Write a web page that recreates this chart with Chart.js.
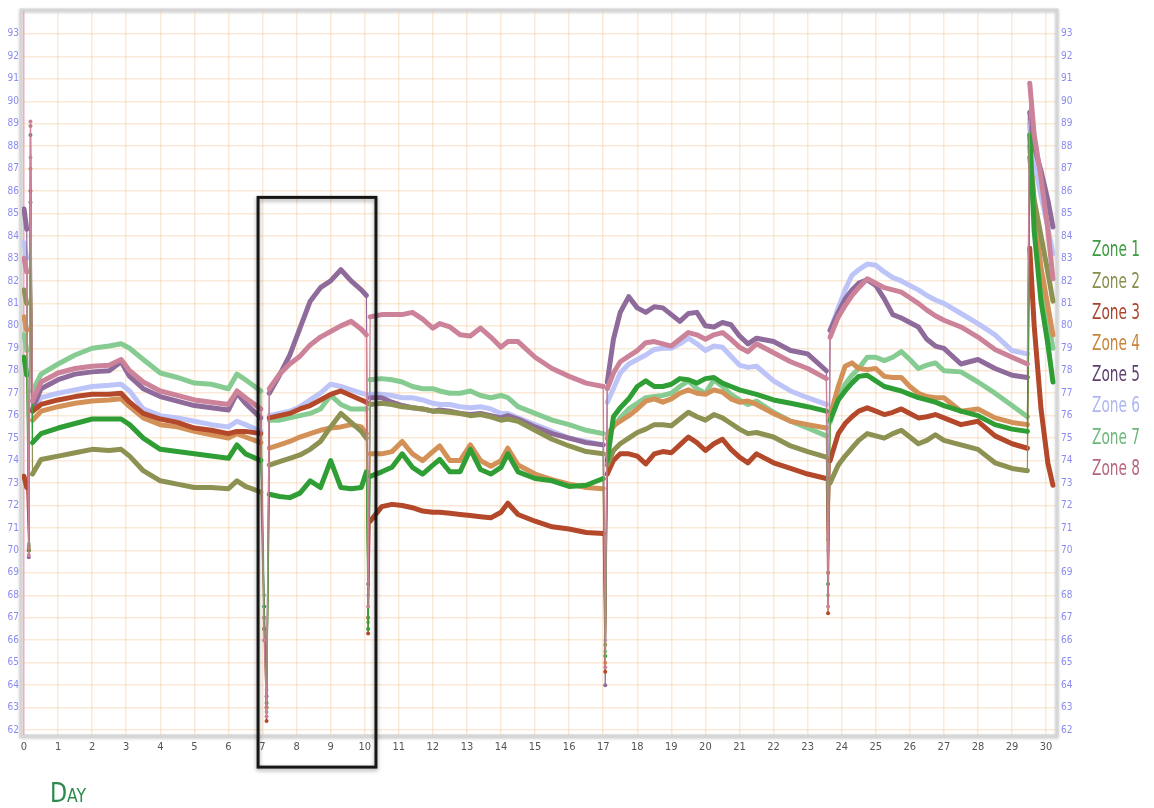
<!DOCTYPE html>
<html>
<head>
<meta charset="utf-8">
<title>Zone temperatures by day</title>
<script src="https://cdn.jsdelivr.net/npm/chart.js@4.4.1/dist/chart.umd.min.js"></script>
<style>
  html, body { margin: 0; padding: 0; background: #ffffff; }
  #wrap { position: relative; width: 1154px; height: 808px; }
</style>
</head>
<body>
<div id="wrap"><canvas id="chart" width="1154" height="808"></canvas></div>
<script>
// Sample times (days since start), shared by every zone.
const days = [
  0, 0.08, 0.14, 0.19, 0.25,
  0.5, 1, 1.5, 2, 2.5, 2.85, 3.1, 3.5, 4, 4.5, 5, 5.5, 6, 6.25, 6.5, 6.95,
  7.05, 7.12, 7.2,
  7.5, 7.8, 8.1, 8.4, 8.7, 9.0, 9.3, 9.6, 9.9, 10.05,
  10.1, 10.16,
  10.5, 10.8, 11.1, 11.4, 11.7, 12.0, 12.2, 12.5, 12.8, 13.1, 13.4, 13.7, 14.0, 14.2, 14.5, 15, 15.5, 16, 16.5, 17.0,
  17.06, 17.12,
  17.3, 17.5, 17.75, 18, 18.25, 18.5, 18.75, 19, 19.25, 19.5, 19.75, 20, 20.25, 20.5, 20.75, 21, 21.25, 21.5, 22, 22.5, 23, 23.55,
  23.6, 23.66,
  23.9, 24.1, 24.3, 24.5, 24.75, 25, 25.25, 25.5, 25.75, 26, 26.25, 26.5, 26.75, 27, 27.5, 28, 28.5, 29, 29.45,
  29.52, 29.65, 29.85, 30.05, 30.2
];

const zone1 = [
  78.6, 77.8, 70.0, 88.5, 74.8,
  75.2, 75.45, 75.65, 75.85, 75.85, 75.85, 75.6, 75.0, 74.5, 74.4, 74.3, 74.2, 74.1, 74.7, 74.3, 74.0,
  67.5, 63.2, 72.5,
  72.4, 72.35, 72.55, 73.1, 72.8, 74.0, 72.8, 72.75, 72.8, 73.5,
  66.5, 73.3,
  73.5, 73.7, 74.3, 73.7, 73.4, 73.8, 74.05, 73.5, 73.5, 74.5, 73.6, 73.4, 73.7, 74.3, 73.5, 73.2, 73.1, 72.85, 72.9, 73.2,
  65.3, 74.0,
  75.95, 76.35, 76.75, 77.3, 77.55, 77.3, 77.3, 77.4, 77.65, 77.6, 77.45, 77.65, 77.7, 77.45, 77.3, 77.15, 77.05, 76.95, 76.7, 76.55, 76.4, 76.2,
  68.5, 75.8,
  76.7, 77.1, 77.45, 77.75, 77.8, 77.55, 77.3, 77.2, 77.1, 76.95, 76.8, 76.7, 76.6, 76.45, 76.2, 76.0, 75.6, 75.4, 75.3,
  88.5, 84.2, 81.1, 79.2, 77.5
];
const zone2 = [
  81.6, 81.0, 70.2, 88.9, 73.4,
  74.05, 74.2, 74.35, 74.5, 74.45, 74.5, 74.2, 73.55, 73.1, 72.95, 72.8, 72.8, 72.75, 73.1, 72.85, 72.6,
  66.5, 63.0, 73.8,
  73.95, 74.1, 74.25, 74.5, 74.85, 75.5, 76.1, 75.7, 75.3, 75.0,
  67.0, 76.5,
  76.55, 76.5, 76.4, 76.35, 76.3, 76.2, 76.2, 76.15, 76.1, 76.0, 76.05, 75.95, 75.8, 75.85, 75.75, 75.35, 74.95, 74.65, 74.4, 74.3,
  65.8, 73.8,
  74.45, 74.75, 75.0, 75.25, 75.4, 75.6, 75.6, 75.55, 75.85, 76.15, 75.95, 75.8, 76.05, 75.9, 75.65, 75.4, 75.2, 75.25, 75.05, 74.65, 74.4, 74.15,
  70.5, 73.0,
  73.8, 74.2, 74.55, 74.9, 75.2, 75.1, 75.0, 75.2, 75.35, 75.05, 74.75, 74.9, 75.15, 74.9, 74.7, 74.5, 73.9, 73.65, 73.55,
  87.5, 85.6, 84.0, 82.4, 81.1
];
const zone3 = [
  73.3, 72.8, 70.0, 86.0, 76.2,
  76.5, 76.7, 76.85, 76.95, 76.95, 77.0, 76.6, 76.1, 75.85, 75.7, 75.45, 75.35, 75.2, 75.3, 75.3, 75.2,
  66.5, 62.4, 75.9,
  76.0, 76.1, 76.3, 76.45, 76.7, 76.95, 77.1, 76.9, 76.7, 76.6,
  66.3, 71.3,
  71.95, 72.05, 72.0, 71.9, 71.75, 71.7, 71.7, 71.65, 71.6, 71.55, 71.5, 71.45, 71.7, 72.1, 71.6, 71.3, 71.05, 70.95, 70.8, 70.75,
  64.6, 73.4,
  74.0, 74.3, 74.3, 74.2, 73.85, 74.3, 74.4, 74.35, 74.7, 75.05, 74.8, 74.45, 74.75, 74.95, 74.5, 74.15, 73.9, 74.3, 73.9, 73.65, 73.4, 73.2,
  67.2, 74.0,
  75.2, 75.65, 75.95, 76.2, 76.35, 76.2, 76.05, 76.15, 76.3, 76.1, 75.9, 75.95, 76.05, 75.9, 75.6, 75.75, 75.1, 74.75, 74.55,
  83.45, 80.0, 76.3, 73.9, 72.9
];
const zone4 = [
  80.4, 79.8, 70.1, 87.0, 75.8,
  76.2, 76.4, 76.55, 76.65, 76.7, 76.75, 76.4, 75.9, 75.6, 75.5, 75.3, 75.15, 75.0, 75.2, 75.05, 74.8,
  67.0, 63.0, 74.55,
  74.7, 74.85, 75.05, 75.2, 75.35, 75.45, 75.5, 75.6, 75.5, 75.2,
  67.0, 74.3,
  74.3, 74.4, 74.85, 74.3, 74.0, 74.4, 74.65, 74.0, 74.0, 74.7, 74.0, 73.75, 74.0, 74.55, 73.8, 73.4, 73.15, 72.95, 72.8, 72.75,
  65.0, 75.0,
  75.55, 75.75, 76.0, 76.3, 76.65, 76.75, 76.6, 76.75, 77.0, 77.15, 77.0, 76.95, 77.15, 77.05, 76.75, 76.6, 76.65, 76.5, 76.1, 75.75, 75.6, 75.45,
  69.0, 76.0,
  77.3, 78.2, 78.35, 78.1, 78.05, 78.1, 77.75, 77.7, 77.7, 77.3, 77.0, 76.85, 76.8, 76.8, 76.2, 76.3, 75.9, 75.7, 75.6,
  88.0, 85.0, 82.6, 80.9, 79.6
];
const zone5 = [
  85.2, 84.3, 69.7, 85.5, 76.3,
  77.2, 77.6, 77.85, 77.95, 78.0, 78.4, 77.75, 77.2, 76.85, 76.65, 76.45, 76.35, 76.25, 77.0, 76.55, 75.9,
  67.0, 63.5, 77.0,
  77.8, 78.7, 79.9, 81.1, 81.7, 82.0, 82.5, 82.0, 81.6, 81.35,
  68.5, 76.8,
  76.8, 76.6, 76.45, 76.35, 76.3, 76.2, 76.25, 76.2, 76.1, 76.05, 76.1, 76.0, 75.9, 76.0, 75.85, 75.5, 75.2, 75.0, 74.8, 74.7,
  64.0, 77.5,
  79.4, 80.6, 81.3, 80.8, 80.6, 80.85, 80.8, 80.5, 80.2, 80.55, 80.6, 80.0, 79.95, 80.15, 80.05, 79.55, 79.2, 79.45, 79.3, 78.9, 78.75, 78.0,
  69.0, 79.8,
  80.6, 81.2, 81.6, 81.9, 82.05, 81.8, 81.2, 80.5, 80.35, 80.15, 79.95, 79.4, 79.1, 79.0, 78.3, 78.5, 78.1, 77.8, 77.7,
  89.5, 88.0, 86.9, 85.6, 84.4
];
const zone6 = [
  83.7, 83.0, 70.2, 84.0, 76.2,
  76.8, 77.0, 77.15, 77.3, 77.35, 77.4, 77.1, 76.3, 76.0, 75.9, 75.75, 75.6, 75.5, 75.75, 75.6, 75.3,
  67.5, 63.8, 76.0,
  76.1, 76.2, 76.4, 76.7, 77.0, 77.4, 77.3, 77.15, 77.0, 76.95,
  68.0, 76.95,
  76.95, 76.9, 76.8, 76.8, 76.7, 76.55, 76.5, 76.5, 76.4, 76.35, 76.4, 76.3, 76.1, 76.1, 75.9, 75.6, 75.3, 75.0, 74.85, 74.7,
  66.0, 76.6,
  77.2, 77.9, 78.3, 78.5, 78.7, 78.95, 79.0, 79.0, 79.2, 79.45, 79.2, 78.9, 79.1, 79.05, 78.65, 78.25, 78.15, 78.2, 77.55, 77.1, 76.8, 76.5,
  70.0, 79.8,
  80.8, 81.6, 82.25, 82.5, 82.75, 82.7, 82.4, 82.15, 82.0, 81.8, 81.6, 81.35, 81.15, 81.0, 80.55, 80.1, 79.6, 78.9, 78.75,
  89.2, 87.3, 85.8, 84.4, 83.2
];
const zone7 = [
  79.6, 78.9, 70.3, 87.5, 77.1,
  77.85, 78.3, 78.7, 79.0, 79.1, 79.2, 79.0, 78.5, 77.9, 77.7, 77.45, 77.4, 77.2, 77.85, 77.6, 77.1,
  68.0, 62.8, 75.8,
  75.8, 75.9, 76.0, 76.1, 76.3, 76.9, 76.5, 76.3, 76.3, 76.3,
  66.8, 77.6,
  77.65, 77.6, 77.5, 77.3, 77.2, 77.2, 77.1, 77.0, 77.0, 77.1, 76.9, 76.8, 76.9, 76.8, 76.4, 76.1, 75.8, 75.6, 75.35, 75.2,
  65.5, 75.2,
  75.5, 75.9, 76.3, 76.55, 76.8, 76.85, 76.9, 77.0, 77.3, 77.55, 77.2, 77.0, 77.6, 77.3, 76.95, 76.7, 76.5, 76.65, 76.15, 75.75, 75.45, 75.1,
  68.0, 75.7,
  76.8, 77.4, 77.8, 78.1, 78.6, 78.6, 78.45, 78.6, 78.85, 78.5, 78.1, 78.25, 78.35, 78.0, 77.95, 77.5, 77.0, 76.45, 75.95,
  89.0, 85.2, 82.0, 80.3, 79.0
];
const zone8 = [
  83.0, 82.4, 69.8, 89.1, 76.65,
  77.5, 77.9, 78.1, 78.2, 78.25, 78.5, 78.0, 77.5, 77.1, 76.9, 76.7, 76.6, 76.5, 77.1, 76.8, 76.3,
  66.0, 62.6, 77.2,
  77.85, 78.3, 78.65, 79.15, 79.5, 79.75, 80.0, 80.2, 79.85, 79.6,
  67.5, 80.4,
  80.5, 80.5, 80.5, 80.6, 80.3, 79.9, 80.1, 79.95, 79.6, 79.55, 79.9, 79.5, 79.05, 79.3, 79.3, 78.6, 78.1, 77.75, 77.45, 77.3,
  64.8, 77.2,
  77.9, 78.4, 78.65, 78.9, 79.25, 79.3, 79.2, 79.1, 79.4, 79.7, 79.6, 79.4, 79.6, 79.7, 79.4, 79.05, 78.85, 79.2, 78.8, 78.4, 78.1, 77.65,
  67.5, 79.5,
  80.4, 80.9, 81.35, 81.7, 82.1, 81.9, 81.7, 81.6, 81.5, 81.25, 81.0, 80.7, 80.45, 80.25, 79.95, 79.5, 78.95, 78.6, 78.3,
  90.8, 88.5, 86.6, 84.3, 82.1
];

const zoneNames = ['Zone 1', 'Zone 2', 'Zone 3', 'Zone 4', 'Zone 5', 'Zone 6', 'Zone 7', 'Zone 8'];
const dayTicks = [0, 1, 2, 3, 4, 5, 6, 7, 8, 9, 10, 11, 12, 13, 14, 15, 16, 17, 18, 19, 20, 21, 22, 23, 24, 25, 26, 27, 28, 29, 30];
const tempTicks = [62, 63, 64, 65, 66, 67, 68, 69, 70, 71, 72, 73, 74, 75, 76, 77, 78, 79, 80, 81, 82, 83, 84, 85, 86, 87, 88, 89, 90, 91, 92, 93];
const xAxisTitle = 'Day';
// Highlighted period (in days) framed on the chart.
const highlightFrom = 6.87;
const highlightTo = 10.33;

const zones = [zone1, zone2, zone3, zone4, zone5, zone6, zone7, zone8];
const lineColors = ['#2f9e35', '#8d9253', '#b3482b', '#d39158', '#8f6b9c', '#bcc4f8', '#86cc92', '#cc8299'];
const legendColors = ['#3c9c3f', '#8a8e4c', '#a9432a', '#c9843c', '#5e3f6e', '#aeb6f2', '#6cb87a', '#b86479'];
// Zone 8 is painted above the other traces.
const drawOrder = [1, 2, 3, 4, 5, 6, 7, 0];
const NARROW = "'Liberation Sans Narrow', 'Arial Narrow', 'DejaVu Sans Condensed', sans-serif";
const GRID = 'rgba(244, 196, 150, 0.38)';

// A step between two samples that is very short in time but large in value is a
// sensor dropout/recovery: draw it as a thin connector with dots.
function isJump(vals, i) {
  if (i < 0 || i + 1 >= vals.length) return false;
  return (days[i + 1] - days[i]) < 0.115 && Math.abs(vals[i + 1] - vals[i]) > 1.3;
}

const datasets = zones.map((vals, k) => ({
  label: zoneNames[k],
  order: drawOrder[k],
  data: days.map((d, i) => ({ x: d, y: vals[i] })),
  borderColor: lineColors[k],
  backgroundColor: lineColors[k],
  borderWidth: 5,
  borderJoinStyle: 'round',
  borderCapStyle: 'round',
  tension: 0,
  pointBorderWidth: 0,
  pointRadius: c => (isJump(vals, c.dataIndex - 1) || isJump(vals, c.dataIndex)) ? 2 : 0,
  segment: {
    borderWidth: c => isJump(vals, c.p0DataIndex) ? 1.2 : 5
  }
}));

const framePlugin = {
  id: 'frame',
  beforeDraw(chart) {
    const { ctx, chartArea: a } = chart;
    ctx.save();
    ctx.fillStyle = '#ffffff';
    ctx.fillRect(0, 0, chart.width, chart.height);
    ctx.shadowColor = 'rgba(0,0,0,0.22)';
    ctx.shadowBlur = 3;
    ctx.shadowOffsetY = 1;
    ctx.strokeStyle = '#d6d6d6';
    ctx.lineWidth = 3;
    ctx.strokeRect(a.left - 1, a.top - 1, a.right - a.left + 2, a.bottom - a.top + 2);
    ctx.restore();
  }
};

const highlightPlugin = {
  id: 'highlight',
  afterDraw(chart) {
    const { ctx } = chart;
    const xs = chart.scales.x, ys = chart.scales.y;
    const x0 = xs.getPixelForValue(highlightFrom), x1 = xs.getPixelForValue(highlightTo);
    const y0 = ys.getPixelForValue(85.72), y1 = ys.getPixelForValue(60.35);
    ctx.save();
    ctx.shadowColor = 'rgba(0,0,0,0.35)';
    ctx.shadowBlur = 4;
    ctx.shadowOffsetY = 2;
    ctx.strokeStyle = '#161616';
    ctx.lineWidth = 3;
    ctx.strokeRect(x0, y0, x1 - x0, y1 - y0);
    ctx.restore();
  }
};

const sideLegendPlugin = {
  id: 'sideLegend',
  afterDraw(chart) {
    const { ctx } = chart;
    ctx.save();
    ctx.font = '21px ' + NARROW;
    ctx.textBaseline = 'middle';
    chart.data.datasets.forEach((ds, k) => {
      // condensed lettering: squeeze each label to a fixed width
      const w = ctx.measureText(ds.label).width;
      const sx = 48 / w;
      ctx.save();
      ctx.translate(1092, 251 + k * 31.2);
      ctx.scale(sx, 1);
      ctx.fillStyle = legendColors[k];
      ctx.fillText(ds.label, 0, 0);
      ctx.restore();
    });
    // axis caption, set in small capitals
    ctx.font = '27px ' + NARROW;
    if ('fontVariantCaps' in ctx) ctx.fontVariantCaps = 'small-caps';
    ctx.textBaseline = 'alphabetic';
    ctx.fillStyle = '#2b8a4c';
    const tw = ctx.measureText(xAxisTitle).width;
    ctx.translate(50, 802);
    ctx.scale(36 / tw, 1);
    ctx.fillText(xAxisTitle, 0, 0);
    ctx.restore();
  }
};

const yTickStyle = { font: { family: NARROW, size: 10 }, color: '#8a8af0', autoSkip: false };

new Chart(document.getElementById('chart'), {
  type: 'line',
  data: { datasets },
  options: {
    responsive: false,
    animation: false,
    devicePixelRatio: 1,
    layout: { padding: { top: 9, left: 0, right: 0, bottom: 0 } },
    plugins: { legend: { display: false }, tooltip: { enabled: false } },
    scales: {
      x: {
        type: 'linear',
        min: -0.059,
        max: 30.29,
        afterBuildTicks: s => { s.ticks = dayTicks.map(v => ({ value: v })); },
        afterFit: s => { s.height = 73; },
        border: { display: false },
        grid: {
          color: c => (c.tick && c.tick.value === 0) ? '#f3a9c6' : GRID,
          lineWidth: 1.5,
          drawTicks: false
        },
        ticks: { font: { family: NARROW, size: 11 }, color: '#555555', padding: 6, maxRotation: 0, autoSkip: false }
      },
      y: {
        position: 'left',
        min: 61.78,
        max: 94.02,
        afterBuildTicks: s => { s.ticks = tempTicks.map(v => ({ value: v })); },
        afterFit: s => { s.width = 22; },
        border: { display: false },
        grid: { color: GRID, lineWidth: 1.5, drawTicks: false },
        ticks: Object.assign({ padding: 3 }, yTickStyle)
      },
      y2: {
        position: 'right',
        min: 61.78,
        max: 94.02,
        afterBuildTicks: s => { s.ticks = tempTicks.map(v => ({ value: v })); },
        afterFit: s => { s.width = 98; },
        border: { display: false },
        grid: { display: false, drawTicks: false },
        ticks: Object.assign({ padding: 5 }, yTickStyle)
      }
    }
  },
  plugins: [framePlugin, highlightPlugin, sideLegendPlugin]
});
</script>
</body>
</html>
